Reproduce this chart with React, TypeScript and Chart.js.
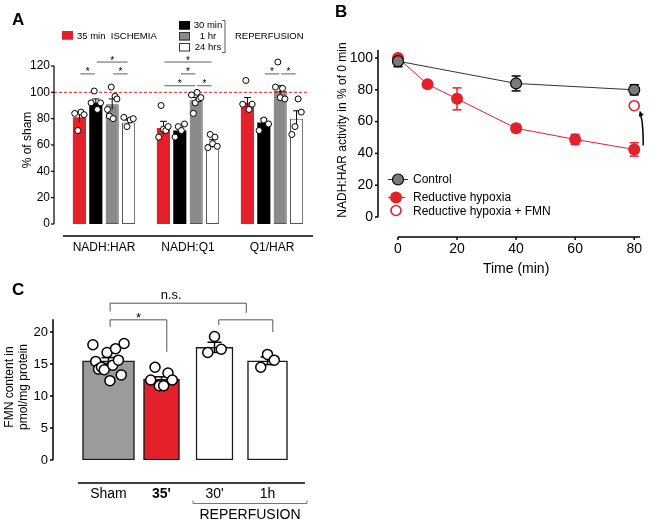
import React, { useEffect, useRef } from 'react';
import { Chart, registerables } from 'chart.js';

Chart.register(...registerables);

const FONT = '"Liberation Sans", Arial, Helvetica, sans-serif';
const RED = '#e4202a';

// ---------------- Panel A data ----------------
const aCategories = ['NADH:HAR', 'NADH:Q1', 'Q1/HAR'];
const aSeriesLabels = ['35 min  ISCHEMIA', '30 min', '1 hr', '24 hrs'];
const aIschemia = [81, 73, 92];
const aReperf30min = [92, 71, 77];
const aReperf1hr = [91, 94, 101];
const aReperf24hrs = [77, 61, 80];
const aIschemiaSem = [4, 5, 4];
const aReperf30minSem = [3, 2, 3];
const aReperf1hrSem = [4, 2, 4];
const aReperf24hrsSem = [2, 3, 6];
const aIschemiaDots = [[84, 71, 85, 83], [66, 90, 72, 71, 74], [91, 109, 87, 91]];
const aReperf30minDots = [[92, 101, 87, 92], [66, 74, 71, 76], [71, 79, 76]];
const aReperf1hrDots = [[87, 82, 104, 80, 97, 95], [98, 84, 92, 100, 95, 96], [104, 123, 96, 103, 95]];
const aReperf24hrsDots = [[81, 74, 79, 80], [58, 68, 61, 66, 59], [68, 74, 95, 85]];
const aShamLevel = 100;
const aYTicks = [0, 20, 40, 60, 80, 100, 120];

// ---------------- Panel B data ----------------
const bControlTime = [0, 40, 80];
const bControl = [98, 84, 80];
const bControlSem = [3.5, 4.7, 3.2];
const bHypoxiaTime = [0, 10, 20, 40, 60, 80];
const bHypoxia = [100, 83.5, 74.3, 55.8, 48.8, 42.5];
const bHypoxiaSem = [1.5, 1, 6.9, 2.5, 3.2, 4.2];
const bFmnTime = [80];
const bFmn = [70];
const bSeriesLabels = ['Control', 'Reductive hypoxia', 'Reductive hypoxia + FMN'];

// ---------------- Panel C data ----------------
const cCategories = ['Sham', "35'", "30'", '1h'];
const cValues = [15.5, 12.6, 17.6, 15.5];
const cSem = [0.5, 0.4, 0.8, 0.6];
const cShamDots = [18.0, 15.4, 14.2, 14.5, 14.1, 16.8, 12.4, 14.8, 17.4, 15.6, 13.3, 18.2];
const cIschemiaDots = [12.5, 14.5, 11.6, 11.6, 13.6, 12.5];
const cReperf30Dots = [16.8, 19.3, 17.3];
const cReperf1hDots = [14.5, 16.5, 15.6];

// ---------------- helpers ----------------
function fnt(size: number, bold = false) {
  return `${bold ? 'bold ' : ''}${size}px ${FONT}`;
}

function drawText(ctx: CanvasRenderingContext2D, s: string, x: number, y: number, size: number, opts: any = {}) {
  ctx.save();
  ctx.font = fnt(size, opts.bold);
  ctx.fillStyle = opts.color || '#000';
  ctx.textAlign = opts.align || 'left';
  ctx.textBaseline = opts.baseline || 'middle';
  if (opts.rotate) {
    ctx.translate(x, y);
    ctx.rotate(opts.rotate);
    ctx.fillText(s, 0, 0);
  } else {
    ctx.fillText(s, x, y);
  }
  ctx.restore();
}

function line(ctx: CanvasRenderingContext2D, x1: number, y1: number, x2: number, y2: number) {
  ctx.beginPath();
  ctx.moveTo(x1, y1);
  ctx.lineTo(x2, y2);
  ctx.stroke();
}

function spread(n: number, width: number) {
  return Array.from({ length: n }, (_, i) => (n === 1 ? 0 : -width / 2 + (width * i) / (n - 1)));
}

function circle(ctx: CanvasRenderingContext2D, x: number, y: number, r: number, fill: string | null, stroke: string | null, lw = 1) {
  ctx.beginPath();
  ctx.arc(x, y, r, 0, Math.PI * 2);
  if (fill) {
    ctx.fillStyle = fill;
    ctx.fill();
  }
  if (stroke) {
    ctx.strokeStyle = stroke;
    ctx.lineWidth = lw;
    ctx.stroke();
  }
}

// ---------------- Panel A ----------------
function buildA(canvas: HTMLCanvasElement) {
  const series = [aIschemia, aReperf30min, aReperf1hr, aReperf24hrs];
  const sems = [aIschemiaSem, aReperf30minSem, aReperf1hrSem, aReperf24hrsSem];
  const dots = [aIschemiaDots, aReperf30minDots, aReperf1hrDots, aReperf24hrsDots];
  const fills = [RED, '#000000', '#8a8a8a', '#ffffff'];
  const strokes = [RED, '#000000', '#555555', '#555555'];
  // [group, fromBar, toBar, level]
  const sig = [
    [0, 0, 1, 114], [0, 2, 3, 114], [0, 1, 3, 123],
    [1, 0, 3, 123], [1, 1, 2, 114], [1, 0, 2, 105], [1, 2, 3, 105],
    [2, 1, 2, 114], [2, 2, 3, 114],
  ];
  const plugin = {
    id: 'panelA',
    afterDatasetsDraw(chart: any) {
      const ctx: CanvasRenderingContext2D = chart.ctx;
      const ca = chart.chartArea;
      const ys = chart.scales.y;
      ctx.save();
      // sham reference line
      const yRef = ys.getPixelForValue(aShamLevel);
      ctx.strokeStyle = RED;
      ctx.lineWidth = 1;
      ctx.setLineDash([3, 2]);
      line(ctx, ca.left - 8, yRef, ca.right - 6, yRef);
      ctx.setLineDash([]);
      // error bars + dots
      series.forEach((vals, k) => {
        const meta = chart.getDatasetMeta(k);
        meta.data.forEach((el: any, g: number) => {
          const cx = el.x;
          const t = ys.getPixelForValue(vals[g] + sems[k][g]);
          const b = ys.getPixelForValue(vals[g] - sems[k][g]);
          ctx.strokeStyle = '#000';
          ctx.lineWidth = 1;
          line(ctx, cx, t, cx, b);
          line(ctx, cx - 3.5, t, cx + 3.5, t);
          const ds = dots[k][g];
          const offs = spread(ds.length, el.width * 0.72);
          ds.forEach((v, i) => {
            circle(ctx, cx + offs[i], ys.getPixelForValue(v), 3, '#ffffff', '#000000', 1);
          });
        });
      });
      // significance
      ctx.strokeStyle = '#333';
      ctx.lineWidth = 0.8;
      sig.forEach(([g, f, t, lv]) => {
        const x1 = chart.getDatasetMeta(f).data[g].x + 1;
        const x2 = chart.getDatasetMeta(t).data[g].x - 1;
        const y = ys.getPixelForValue(lv);
        line(ctx, x1, y, x2, y);
        drawText(ctx, '*', (x1 + x2) / 2, y + 1.5, 10, { align: 'center', baseline: 'alphabetic' });
      });
      // axes
      ctx.strokeStyle = '#000';
      ctx.lineWidth = 1.2;
      const ax = ca.left - 8;
      line(ctx, ax, ys.getPixelForValue(0), ax, ys.getPixelForValue(120));
      aYTicks.forEach((v) => {
        const y = ys.getPixelForValue(v);
        line(ctx, ax - 3, y, ax, y);
      });
      ctx.lineWidth = 1.5;
      line(ctx, ca.left + 1, ca.bottom + 12, ca.right - 1, ca.bottom + 12);
      // y title
      drawText(ctx, '% of sham', 28, 140, 12, { align: 'center', rotate: -Math.PI / 2 });
      // legend
      const sq = [
        [62, 31, fills[0], strokes[0]],
        [179, 21, fills[1], strokes[1]],
        [179, 32, fills[2], '#333'],
        [179, 43, fills[3], '#333'],
      ];
      sq.forEach(([x, y, f, s]: any) => {
        ctx.fillStyle = f;
        ctx.fillRect(x, y, 11, 8.5);
        ctx.strokeStyle = s;
        ctx.lineWidth = 1;
        ctx.strokeRect(x + 0.5, y + 0.5, 10, 7.5);
      });
      drawText(ctx, aSeriesLabels[0], 77, 36, 9.5);
      drawText(ctx, aSeriesLabels[1], 208, 25.5, 9.5, { align: 'center' });
      drawText(ctx, aSeriesLabels[2], 208, 36.5, 9.5, { align: 'center' });
      drawText(ctx, aSeriesLabels[3], 208, 47.5, 9.5, { align: 'center' });
      ctx.strokeStyle = '#333';
      ctx.lineWidth = 0.8;
      ctx.beginPath();
      ctx.moveTo(222, 20.5);
      ctx.lineTo(225, 20.5);
      ctx.lineTo(225, 52.5);
      ctx.lineTo(222, 52.5);
      ctx.stroke();
      drawText(ctx, 'REPERFUSION', 235, 36.5, 9.5);
      // panel letter
      drawText(ctx, 'A', 12, 25, 17, { bold: true, baseline: 'alphabetic' });
      ctx.restore();
    },
  };
  return new Chart(canvas, {
    type: 'bar',
    data: {
      labels: aCategories,
      datasets: series.map((s, k) => ({
        label: aSeriesLabels[k],
        data: s,
        backgroundColor: fills[k],
        borderColor: strokes[k],
        borderWidth: k >= 2 ? 1 : 0,
        borderSkipped: false,
        categoryPercentage: 0.78,
        barPercentage: 0.8,
      })),
    },
    options: {
      animation: false,
      responsive: false,
      layout: { padding: { top: 66, right: 16, left: 0, bottom: 0 } },
      plugins: { legend: { display: false }, tooltip: { enabled: false } },
      scales: {
        x: {
          grid: { display: false, drawTicks: false },
          border: { display: false },
          ticks: { font: { family: FONT, size: 12 }, color: '#000', padding: 16, maxRotation: 0 },
          afterFit: (s: any) => {
            s.height = 46;
          },
        },
        y: {
          min: 0,
          max: 120,
          grid: { display: false, drawTicks: false },
          border: { display: false },
          ticks: { stepSize: 20, font: { family: FONT, size: 12 }, color: '#000', padding: 12 },
          afterFit: (s: any) => {
            s.width = 62;
          },
        },
      },
    },
    plugins: [plugin],
  } as any);
}

// ---------------- Panel B ----------------
function buildB(canvas: HTMLCanvasElement) {
  const ctrlPts = bControlTime.map((t, i) => ({ x: t, y: bControl[i] }));
  const hypPts = bHypoxiaTime.map((t, i) => ({ x: t, y: bHypoxia[i] }));
  const fmnPts = bFmnTime.map((t, i) => ({ x: t, y: bFmn[i] }));
  const plugin = {
    id: 'panelB',
    beforeDatasetsDraw(chart: any) {
      const ctx: CanvasRenderingContext2D = chart.ctx;
      const xs = chart.scales.x;
      const ys = chart.scales.y;
      ctx.save();
      ctx.lineWidth = 1.5;
      const eb = (times: number[], vals: number[], sems: number[], color: string) => {
        ctx.strokeStyle = color;
        times.forEach((t, i) => {
          const x = xs.getPixelForValue(t);
          const y1 = ys.getPixelForValue(vals[i] + sems[i]);
          const y2 = ys.getPixelForValue(vals[i] - sems[i]);
          line(ctx, x, y1, x, y2);
          line(ctx, x - 4.5, y1, x + 4.5, y1);
          line(ctx, x - 4.5, y2, x + 4.5, y2);
        });
      };
      eb(bHypoxiaTime, bHypoxia, bHypoxiaSem, RED);
      eb(bControlTime, bControl, bControlSem, '#000');
      ctx.restore();
    },
    afterDatasetsDraw(chart: any) {
      const ctx: CanvasRenderingContext2D = chart.ctx;
      const ca = chart.chartArea;
      const xs = chart.scales.x;
      const ys = chart.scales.y;
      ctx.save();
      // axes
      ctx.strokeStyle = '#000';
      ctx.lineWidth = 1.5;
      const ax = ca.left - 20;
      line(ctx, ax, ys.getPixelForValue(0), ax, ys.getPixelForValue(105));
      [0, 20, 40, 60, 80, 100].forEach((v) => {
        const y = ys.getPixelForValue(v);
        line(ctx, ax - 3, y, ax, y);
      });
      const bx = ca.bottom + 20;
      line(ctx, xs.getPixelForValue(0), bx, xs.getPixelForValue(82), bx);
      [0, 20, 40, 60, 80].forEach((v) => {
        const x = xs.getPixelForValue(v);
        line(ctx, x, bx, x, bx + 3);
      });
      // titles
      drawText(ctx, 'NADH:HAR activity in % of 0 min', 13, 130, 12, { align: 'center', rotate: -Math.PI / 2 });
      drawText(ctx, 'Time (min)', (ca.left + ca.right) / 2, 269, 14, { align: 'center' });
      // legend
      ctx.strokeStyle = '#333';
      ctx.lineWidth = 1;
      line(ctx, 58, 179.5, 78, 179.5);
      circle(ctx, 68, 179.5, 5.5, '#7a7a7a', '#000', 1.2);
      ctx.strokeStyle = RED;
      line(ctx, 58, 197.5, 75, 197.5);
      circle(ctx, 66, 197.5, 6, RED, null);
      circle(ctx, 66, 210.5, 5, '#fff', RED, 1.6);
      drawText(ctx, bSeriesLabels[0], 83, 179.5, 12);
      drawText(ctx, bSeriesLabels[1], 83, 197.5, 12);
      drawText(ctx, bSeriesLabels[2], 83, 211.5, 12);
      // arrow from hypoxia 80' to FMN 80'
      const x80 = xs.getPixelForValue(bFmnTime[0]);
      const yT = ys.getPixelForValue(bHypoxia[bHypoxia.length - 1]) - 4;
      const yH = ys.getPixelForValue(bFmn[0]) + 5;
      const tx = x80 + 9;
      const hx = x80 + 5.5;
      const cxp = x80 + 9;
      const cyp = (yT + yH) / 2 - 6;
      ctx.strokeStyle = '#000';
      ctx.lineWidth = 1.5;
      ctx.beginPath();
      ctx.moveTo(tx, yT);
      ctx.quadraticCurveTo(cxp, cyp, hx + 0.8, yH + 4);
      ctx.stroke();
      const ang = Math.atan2(yH - cyp, hx - cxp);
      ctx.fillStyle = '#000';
      ctx.beginPath();
      ctx.moveTo(hx, yH);
      ctx.lineTo(hx - 6 * Math.cos(ang - 0.45), yH - 6 * Math.sin(ang - 0.45));
      ctx.lineTo(hx - 6 * Math.cos(ang + 0.45), yH - 6 * Math.sin(ang + 0.45));
      ctx.closePath();
      ctx.fill();
      // letter
      drawText(ctx, 'B', 5, 17, 17, { bold: true, baseline: 'alphabetic' });
      ctx.restore();
    },
  };
  return new Chart(canvas, {
    type: 'scatter',
    data: {
      datasets: [
        {
          label: bSeriesLabels[0],
          data: ctrlPts,
          showLine: true,
          borderColor: '#333',
          borderWidth: 1,
          pointRadius: 5.5,
          pointBackgroundColor: '#7a7a7a',
          pointBorderColor: '#000',
          pointBorderWidth: 1.2,
          clip: false,
        },
        {
          label: bSeriesLabels[1],
          data: hypPts,
          showLine: true,
          borderColor: RED,
          borderWidth: 1,
          pointRadius: 6,
          pointBackgroundColor: RED,
          pointBorderColor: RED,
          pointBorderWidth: 0,
          clip: false,
        },
        {
          label: bSeriesLabels[2],
          data: fmnPts,
          showLine: false,
          pointRadius: 5,
          pointBackgroundColor: '#fff',
          pointBorderColor: RED,
          pointBorderWidth: 1.6,
          clip: false,
        },
      ],
    },
    options: {
      animation: false,
      responsive: false,
      layout: { padding: { top: 58, right: 12, left: 0, bottom: 0 } },
      plugins: { legend: { display: false }, tooltip: { enabled: false } },
      scales: {
        x: {
          type: 'linear',
          min: 0,
          max: 80,
          grid: { display: false, drawTicks: false },
          border: { display: false },
          ticks: { stepSize: 20, font: { family: FONT, size: 14 }, color: '#000', padding: 24, maxRotation: 0 },
          afterFit: (s: any) => {
            s.height = 73;
          },
        },
        y: {
          min: 0,
          max: 100,
          grid: { display: false, drawTicks: false },
          border: { display: false },
          ticks: { stepSize: 20, font: { family: FONT, size: 14 }, color: '#000', padding: 25 },
          afterFit: (s: any) => {
            s.width = 68;
          },
        },
      },
    },
    plugins: [plugin],
  } as any);
}

// ---------------- Panel C ----------------
function buildC(canvas: HTMLCanvasElement) {
  const fills = ['#9b9b9b', RED, '#ffffff', '#ffffff'];
  const widths = [52, 36, 37, 40];
  const dots = [cShamDots, cIschemiaDots, cReperf30Dots, cReperf1hDots];
  const brackets = [
    { from: 0.03, to: 1.1, level: 21.9, dropFrom: 20.8, dropTo: 16.9, label: '*', size: 13, up: 2.4 },
    { from: 0.03, to: 2.6, level: 24.5, dropFrom: 23.2, dropTo: 23.0, label: 'n.s.', size: 13, up: -4 },
    { from: 2.08, to: 3.1, level: 21.9, dropFrom: 21.1, dropTo: 20.0, label: '', size: 13, up: 0 },
  ];
  const plugin = {
    id: 'panelC',
    afterDatasetsDraw(chart: any) {
      const ctx: CanvasRenderingContext2D = chart.ctx;
      const ca = chart.chartArea;
      const xs = chart.scales.x;
      const ys = chart.scales.y;
      ctx.save();
      cValues.forEach((v, i) => {
        const el = chart.getDatasetMeta(i).data[i];
        const cx = el.x;
        const t = ys.getPixelForValue(v + cSem[i]);
        const b = ys.getPixelForValue(v - cSem[i]);
        ctx.strokeStyle = '#000';
        ctx.lineWidth = 1.5;
        line(ctx, cx, t, cx, b);
        line(ctx, cx - 7, t, cx + 7, t);
        line(ctx, cx - 7, b, cx + 7, b);
        const ds = dots[i];
        const offs = spread(ds.length, Math.min(el.width * 0.6, ds.length * 4.5));
        ds.forEach((d, j) => circle(ctx, cx + offs[j], ys.getPixelForValue(d), 5, '#fff', '#000', 1.5));
      });
      // brackets
      ctx.strokeStyle = '#555';
      ctx.lineWidth = 1;
      brackets.forEach((bk) => {
        const x1 = xs.getPixelForValue(bk.from);
        const x2 = xs.getPixelForValue(bk.to);
        const y = ys.getPixelForValue(bk.level);
        ctx.beginPath();
        ctx.moveTo(x1, ys.getPixelForValue(bk.dropFrom));
        ctx.lineTo(x1, y);
        ctx.lineTo(x2, y);
        ctx.lineTo(x2, ys.getPixelForValue(bk.dropTo));
        ctx.stroke();
        if (bk.label) {
          drawText(ctx, bk.label, (x1 + x2) / 2 - (bk.label === 'n.s.' ? 7 : 0), y + bk.up, bk.size, {
            align: 'center',
            baseline: 'alphabetic',
          });
        }
      });
      // axes
      ctx.strokeStyle = '#000';
      ctx.lineWidth = 1.5;
      const ax = 53;
      line(ctx, ax, ys.getPixelForValue(0), ax, ys.getPixelForValue(22));
      [0, 5, 10, 15, 20].forEach((v) => {
        const y = ys.getPixelForValue(v);
        line(ctx, ax - 3, y, ax, y);
      });
      line(ctx, 78, ca.bottom + 23, 305, ca.bottom + 23);
      // reperfusion bracket
      ctx.strokeStyle = '#777';
      ctx.lineWidth = 1;
      const rb = ca.bottom + 43.5;
      ctx.beginPath();
      ctx.moveTo(193, rb - 3);
      ctx.lineTo(193, rb);
      ctx.lineTo(307, rb);
      ctx.lineTo(307, rb - 3);
      ctx.stroke();
      drawText(ctx, 'REPERFUSION', 250, ca.bottom + 55, 14, { align: 'center' });
      // y title
      drawText(ctx, 'FMN content in', 10, 107, 12, { align: 'center', rotate: -Math.PI / 2 });
      drawText(ctx, 'pmol/mg protein', 24, 107, 12, { align: 'center', rotate: -Math.PI / 2 });
      // letter
      drawText(ctx, 'C', 12, 15, 17, { bold: true, baseline: 'alphabetic' });
      ctx.restore();
    },
  };
  return new Chart(canvas, {
    type: 'bar',
    data: {
      labels: cCategories,
      datasets: cValues.map((v, i) => ({
        label: cCategories[i],
        data: cCategories.map((_, j) => (j === i ? v : null)),
        backgroundColor: fills[i],
        borderColor: '#1a1a1a',
        borderWidth: 1.5,
        borderSkipped: false,
        barThickness: widths[i],
        grouped: false,
      })),
    },
    options: {
      animation: false,
      responsive: false,
      layout: { padding: { top: 52, right: 36, left: 0, bottom: 0 } },
      plugins: { legend: { display: false }, tooltip: { enabled: false } },
      scales: {
        x: {
          grid: { display: false, drawTicks: false },
          border: { display: false },
          ticks: {
            font: (c: any) => ({ family: FONT, size: 14, weight: c.index === 1 ? 'bold' : 'normal' }),
            color: '#000',
            padding: 26,
            maxRotation: 0,
          },
          afterFit: (s: any) => {
            s.height = 62;
          },
        },
        y: {
          min: 0,
          max: 20,
          grid: { display: false, drawTicks: false },
          border: { display: false },
          ticks: { stepSize: 5, font: { family: FONT, size: 13 }, color: '#000', padding: 34 },
          afterFit: (s: any) => {
            s.width = 82;
          },
        },
      },
    },
    plugins: [plugin],
  } as any);
}

function Panel({ left, top, width, height, build }: any) {
  const ref = useRef<HTMLCanvasElement>(null);
  useEffect(() => {
    const chart = build(ref.current as HTMLCanvasElement);
    return () => chart.destroy();
  }, []);
  return (
    <canvas
      ref={ref}
      width={width}
      height={height}
      style={{ position: 'absolute', left, top, width, height }}
    />
  );
}

export default function App() {
  return (
    <div
      style={{
        position: 'fixed',
        left: 0,
        top: 0,
        width: 666,
        height: 522,
        background: '#ffffff',
        overflow: 'hidden',
      }}
    >
      <Panel left={0} top={0} width={330} height={270} build={buildA} />
      <Panel left={330} top={0} width={336} height={290} build={buildB} />
      <Panel left={0} top={280} width={330} height={242} build={buildC} />
    </div>
  );
}
